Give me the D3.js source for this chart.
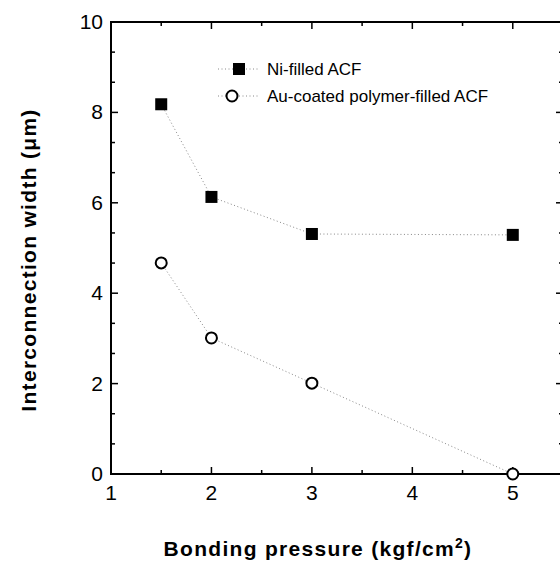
<!DOCTYPE html>
<html><head><meta charset="utf-8">
<script src="https://cdn.jsdelivr.net/npm/d3@7"></script>
<style>body{margin:0;background:#fff}svg{display:block}</style>
</head><body>
<script>
const pressure = [1.5, 2, 3, 5];
const niFilled = [8.18, 6.13, 5.31, 5.29];
const auCoated = [4.67, 3.01, 2.01, 0];
const seriesNames = ["Ni-filled ACF", "Au-coated polymer-filled ACF"];
const xTicks = [1, 2, 3, 4, 5];
const yTicks = [0, 2, 4, 6, 8, 10];

const W = 560, H = 564;
const svg = d3.select("body").append("svg").attr("width", W).attr("height", H);
const x = d3.scaleLinear().domain([1, 5.5]).range([111, 563]);
const y = d3.scaleLinear().domain([0, 10]).range([474, 22]);
const font = "Arial, 'Liberation Sans', sans-serif";

const g = svg.append("g");
g.append("rect").attr("x", x(1)).attr("y", y(10)).attr("width", x(5.5) - x(1)).attr("height", y(0) - y(10))
  .attr("fill", "none").attr("stroke", "#000").attr("stroke-width", 2);

// x ticks (inward, bottom and top)
d3.range(1, 5.51, 0.5).forEach(v => {
  const len = Number.isInteger(v) ? 7 : 4;
  g.append("line").attr("x1", x(v)).attr("x2", x(v)).attr("y1", y(0)).attr("y2", y(0) - len).attr("stroke", "#000").attr("stroke-width", 1.5);
  g.append("line").attr("x1", x(v)).attr("x2", x(v)).attr("y1", y(10)).attr("y2", y(10) + len).attr("stroke", "#000").attr("stroke-width", 1.5);
});
// y ticks (inward, left and right); minor every 2/3
for (let k = 0; k <= 15; k++) {
  const v = k * 2 / 3;
  const len = k % 3 === 0 ? 7 : 4;
  g.append("line").attr("x1", x(1)).attr("x2", x(1) + len).attr("y1", y(v)).attr("y2", y(v)).attr("stroke", "#000").attr("stroke-width", 1.5);
  g.append("line").attr("x1", x(5.5)).attr("x2", x(5.5) - len).attr("y1", y(v)).attr("y2", y(v)).attr("stroke", "#000").attr("stroke-width", 1.5);
}

// tick labels
g.selectAll(".xt").data(xTicks).enter().append("text")
  .attr("x", d => x(d)).attr("y", y(0) + 26).attr("text-anchor", "middle")
  .attr("font-family", font).attr("font-size", 21).text(d => d);
g.selectAll(".yt").data(yTicks).enter().append("text")
  .attr("x", x(1) - 8).attr("y", d => y(d) + 7).attr("text-anchor", "end")
  .attr("font-family", font).attr("font-size", 21).text(d => d);

// titles
const xt = svg.append("text").attr("x", 318).attr("y", 556).attr("text-anchor", "middle")
  .attr("font-family", font).attr("font-size", 21).attr("font-weight", "bold").attr("letter-spacing", 1.3);
xt.append("tspan").text("Bonding pressure (kgf/cm");
xt.append("tspan").attr("dy", -8).attr("font-size", 14).text("2");
xt.append("tspan").attr("dy", 8).text(")");
svg.append("text").attr("transform", "translate(36,260) rotate(-90)").attr("text-anchor", "middle")
  .attr("font-family", font).attr("font-size", 21).attr("font-weight", "bold").attr("letter-spacing", 1.3)
  .text("Interconnection width (\u03bcm)");

// lines
const line = d3.line().x(d => x(d[0])).y(d => y(d[1]));
const ni = pressure.map((p, i) => [p, niFilled[i]]);
const au = pressure.map((p, i) => [p, auCoated[i]]);
[ni, au].forEach(s => {
  svg.append("path").attr("d", line(s)).attr("fill", "none").attr("stroke", "#888")
    .attr("stroke-width", 1).attr("stroke-dasharray", "1,2.5");
});

// markers
svg.selectAll(".sq").data(ni).enter().append("rect")
  .attr("x", d => x(d[0]) - 6).attr("y", d => y(d[1]) - 6).attr("width", 12).attr("height", 12).attr("fill", "#000");
svg.selectAll(".ci").data(au).enter().append("circle")
  .attr("cx", d => x(d[0])).attr("cy", d => y(d[1])).attr("r", 5.5)
  .attr("fill", "#fff").attr("stroke", "#000").attr("stroke-width", 2);

// legend
const lg = svg.append("g");
[0, 1].forEach(i => {
  const ly = 69 + i * 27;
  lg.append("line").attr("x1", 218).attr("x2", 258).attr("y1", ly).attr("y2", ly)
    .attr("stroke", "#888").attr("stroke-width", 1).attr("stroke-dasharray", "1,2.5");
  if (i === 0) lg.append("rect").attr("x", 233).attr("y", ly - 6).attr("width", 12).attr("height", 12).attr("fill", "#000");
  else lg.append("circle").attr("cx", 232).attr("cy", ly).attr("r", 5.5).attr("fill", "#fff").attr("stroke", "#000").attr("stroke-width", 2);
  lg.append("text").attr("x", 267).attr("y", ly + 6).attr("font-family", font).attr("font-size", 17).text(seriesNames[i]);
});
</script>
</body></html>
